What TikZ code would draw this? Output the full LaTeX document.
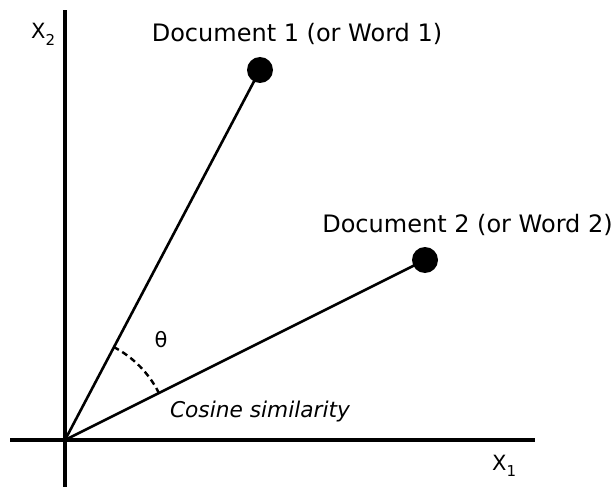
\documentclass[tikz,border=0pt]{standalone}
\usepackage{fontspec}
\setmainfont{DejaVu Sans}
\newfontface\obliquefont{DejaVu Sans Oblique}
\newcommand{\subidx}[1]{\raisebox{-0.32em}{\fontsize{15}{15}\selectfont #1}}
\tikzset{
  axis/.style={line width=3.2pt},
  vec/.style={line width=2.6pt},
  pt/.style={circle, fill=black, inner sep=0pt, minimum size=26pt},
  lbl/.style={inner sep=0pt, anchor=base, font=\fontsize{24}{27}\selectfont},
  axlbl/.style={inner sep=0pt, anchor=base west, font=\fontsize{21}{24}\selectfont},
  anglearc/.style={line width=2.4pt, dash pattern=on 6pt off 4pt}
}
\begin{document}
\begin{tikzpicture}[x=1pt,y=-1pt]
  \useasboundingbox (0,0) rectangle (614,487);
  % axes
  \coordinate (o) at (65,440);
  \coordinate (ytop) at (65,10);
  \coordinate (ybot) at (65,487);
  \coordinate (xleft) at (10,440);
  \coordinate (xright) at (535,440);
  \draw[axis] (ybot) -- (ytop);
  \draw[axis] (xleft) -- (xright);
  % document vectors
  \node[pt] (d1) at (260,70) {};
  \node[pt] (d2) at (425,260) {};
  \draw[vec] (o) -- (d1.center);
  \draw[vec] (o) -- (d2.center);
  % angle between the two vectors
  \draw[anglearc] (o) ++(-26.4:105) arc[start angle=-26.4, end angle=-62.2, radius=105];
  % labels
  \node[lbl] (t1) at (297,42) {Document 1 (or Word 1)};
  \node[lbl] (t2) at (467.5,232) {Document 2 (or Word 2)};
  \node[axlbl] (x2) at (31,39) {X\subidx{2}};
  \node[axlbl] (x1) at (492,470) {X\subidx{1}};
  \node[inner sep=0pt, font=\fontsize{21}{24}\selectfont] (th) at (161,340) {θ};
  \node[inner sep=0pt, anchor=base, font=\fontsize{21.7}{24}\selectfont\obliquefont] (cs) at (260,417) {Cosine similarity};
\end{tikzpicture}
\end{document}
